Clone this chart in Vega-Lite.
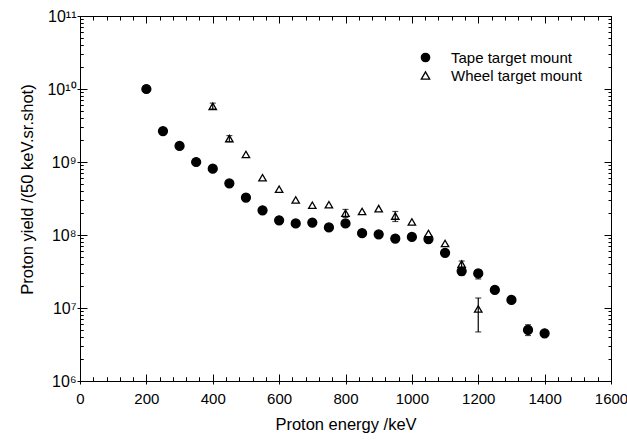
{
  "$schema": "https://vega.github.io/schema/vega-lite/v6.json",
  "width": 531,
  "height": 365,
  "autosize": "none",
  "padding": {"left": 80, "top": 16, "right": 16, "bottom": 64},
  "background": "white",
  "config": {
    "view": {"stroke": "black", "strokeWidth": 1},
    "font": "Liberation Sans",
    "axis": {"domainColor": "black", "tickColor": "black", "tickWidth": 1, "labelColor": "black", "titleColor": "black", "grid": false, "labelFont": "Liberation Sans", "titleFont": "Liberation Sans", "titleFontWeight": "normal", "labelFontSize": 15, "titleFontSize": 16.5, "labelOverlap": false},
    "legend": {"labelFont": "Liberation Sans", "labelFontSize": 15, "labelColor": "black"}
  },
  "data": {
    "values": [
      {"series": "Tape target mount", "energy": 200, "yield": 1.0e10},
      {"series": "Tape target mount", "energy": 250, "yield": 2.65e9},
      {"series": "Tape target mount", "energy": 300, "yield": 1.66e9},
      {"series": "Tape target mount", "energy": 350, "yield": 1.0e9},
      {"series": "Tape target mount", "energy": 400, "yield": 8.1e8},
      {"series": "Tape target mount", "energy": 450, "yield": 5.1e8},
      {"series": "Tape target mount", "energy": 500, "yield": 3.26e8},
      {"series": "Tape target mount", "energy": 550, "yield": 2.18e8},
      {"series": "Tape target mount", "energy": 600, "yield": 1.59e8},
      {"series": "Tape target mount", "energy": 650, "yield": 1.44e8},
      {"series": "Tape target mount", "energy": 700, "yield": 1.48e8},
      {"series": "Tape target mount", "energy": 750, "yield": 1.27e8},
      {"series": "Tape target mount", "energy": 800, "yield": 1.44e8},
      {"series": "Tape target mount", "energy": 850, "yield": 1.06e8},
      {"series": "Tape target mount", "energy": 900, "yield": 1.02e8},
      {"series": "Tape target mount", "energy": 950, "yield": 8.95e7},
      {"series": "Tape target mount", "energy": 1000, "yield": 9.4e7},
      {"series": "Tape target mount", "energy": 1050, "yield": 8.8e7},
      {"series": "Tape target mount", "energy": 1100, "yield": 5.7e7, "lo": 5.2e7, "hi": 6.2e7},
      {"series": "Tape target mount", "energy": 1150, "yield": 3.2e7, "lo": 2.8e7, "hi": 3.5e7},
      {"series": "Tape target mount", "energy": 1200, "yield": 2.97e7, "lo": 2.5e7, "hi": 3.3e7},
      {"series": "Tape target mount", "energy": 1250, "yield": 1.77e7},
      {"series": "Tape target mount", "energy": 1300, "yield": 1.29e7},
      {"series": "Tape target mount", "energy": 1350, "yield": 5.0e6, "lo": 4.2e6, "hi": 5.9e6},
      {"series": "Tape target mount", "energy": 1400, "yield": 4.5e6},
      {"series": "Wheel target mount", "energy": 400, "yield": 5.8e9, "lo": 5.3e9, "hi": 6.4e9},
      {"series": "Wheel target mount", "energy": 450, "yield": 2.09e9, "lo": 1.9e9, "hi": 2.3e9},
      {"series": "Wheel target mount", "energy": 500, "yield": 1.27e9},
      {"series": "Wheel target mount", "energy": 550, "yield": 6.1e8},
      {"series": "Wheel target mount", "energy": 600, "yield": 4.24e8},
      {"series": "Wheel target mount", "energy": 650, "yield": 3.02e8},
      {"series": "Wheel target mount", "energy": 700, "yield": 2.56e8},
      {"series": "Wheel target mount", "energy": 750, "yield": 2.6e8},
      {"series": "Wheel target mount", "energy": 800, "yield": 1.99e8, "lo": 1.74e8, "hi": 2.24e8},
      {"series": "Wheel target mount", "energy": 850, "yield": 2.1e8},
      {"series": "Wheel target mount", "energy": 900, "yield": 2.3e8},
      {"series": "Wheel target mount", "energy": 950, "yield": 1.82e8, "lo": 1.53e8, "hi": 2.1e8},
      {"series": "Wheel target mount", "energy": 1000, "yield": 1.51e8},
      {"series": "Wheel target mount", "energy": 1050, "yield": 1.05e8},
      {"series": "Wheel target mount", "energy": 1100, "yield": 7.65e7},
      {"series": "Wheel target mount", "energy": 1150, "yield": 4.0e7, "lo": 3.6e7, "hi": 4.4e7},
      {"series": "Wheel target mount", "energy": 1200, "yield": 9.7e6, "lo": 4.7e6, "hi": 1.37e7}
    ]
  },
  "layer": [
    {
      "mark": {"type": "point", "filled": true, "stroke": "black", "strokeWidth": 1.3, "opacity": 1},
      "encoding": {
        "x": {"field": "energy", "type": "quantitative", "scale": {"domain": [0, 1600], "nice": false, "zero": false},
          "axis": {"orient": "bottom", "offset": 0, "title": "Proton energy /keV", "values": [0,200,400,600,800,1000,1200,1400,1600], "format": "d",
            "tickSize": 3, "labelPadding": 7, "titlePadding": 10, "labelFlush": false, "labelOverlap": false}},
        "y": {"field": "yield", "type": "quantitative", "scale": {"type": "log", "domain": [1e6, 1e11], "nice": false},
          "axis": {"orient": "left", "offset": 0, "title": "Proton yield /(50 keV.sr.shot)", "values": [1e6,1e7,1e8,1e9,1e10,1e11],
            "labelExpr": "['','','','','','','10⁶','10⁷','10⁸','10⁹','10¹⁰','10¹¹'][round(log(datum.value)/LN10)]",
            "labelFontSize": 16, "tickSize": 3, "labelPadding": 1, "titlePadding": 11, "titleY": 173, "labelFlush": false, "labelOverlap": false}},
        "shape": {"field": "series", "type": "nominal", "scale": {"domain": ["Tape target mount", "Wheel target mount"], "range": ["circle", "triangle-up"]},
          "legend": {"title": null, "orient": "none", "legendX": 338, "legendY": 34, "symbolStrokeWidth": 1.3, "symbolSize": 70, "labelOffset": 18, "rowPadding": 2}},
        "fill": {"field": "series", "type": "nominal", "scale": {"domain": ["Tape target mount", "Wheel target mount"], "range": ["black", "white"]},
          "legend": {"title": null, "orient": "none", "legendX": 338, "legendY": 34, "symbolStrokeWidth": 1.3, "symbolSize": 70, "labelOffset": 18, "rowPadding": 2}},
        "size": {"condition": {"test": "datum.series === 'Tape target mount'", "value": 80}, "value": 55}
      }
    },
    {
      "transform": [{"filter": "isValid(datum.lo)"}],
      "mark": {"type": "rule", "color": "black", "strokeWidth": 1.2},
      "encoding": {
        "x": {"field": "energy", "type": "quantitative",
          "axis": {"orient": "top", "offset": -365, "title": null, "labels": false, "domain": false, "tickSize": 4, "values": [0,40,80,120,160,200,240,280,320,360,400,440,480,520,560,600,640,680,720,760,800,840,880,920,960,1000,1040,1080,1120,1160,1200,1240,1280,1320,1360,1400,1440,1480,1520,1560,1600]}},
        "y": {"field": "lo", "type": "quantitative",
          "axis": {"orient": "right", "offset": -531, "title": null, "labels": false, "domain": false, "tickSize": 3, "values": [2e6,3e6,4e6,5e6,6e6,7e6,8e6,9e6,2e7,3e7,4e7,5e7,6e7,7e7,8e7,9e7,2e8,3e8,4e8,5e8,6e8,7e8,8e8,9e8,2e9,3e9,4e9,5e9,6e9,7e9,8e9,9e9,2e10,3e10,4e10,5e10,6e10,7e10,8e10,9e10]}},
        "y2": {"field": "hi"}
      }
    },
    {
      "transform": [{"filter": "isValid(datum.lo)"}],
      "mark": {"type": "point", "shape": "M-1,0L1,0", "stroke": "black", "strokeWidth": 1.2, "size": 36, "filled": false},
      "encoding": {
        "x": {"field": "energy", "type": "quantitative",
          "axis": {"orient": "top", "offset": -365, "title": null, "labels": false, "domain": false, "tickSize": 7, "values": [0,200,400,600,800,1000,1200,1400,1600]}},
        "y": {"field": "lo", "type": "quantitative",
          "axis": {"orient": "right", "offset": -531, "title": null, "labels": false, "domain": false, "tickSize": 7, "values": [1e6,1e7,1e8,1e9,1e10,1e11]}}
      }
    },
    {
      "transform": [{"filter": "isValid(datum.lo)"}],
      "mark": {"type": "point", "shape": "M-1,0L1,0", "stroke": "black", "strokeWidth": 1.2, "size": 36, "filled": false},
      "encoding": {
        "x": {"field": "energy", "type": "quantitative",
          "axis": {"orient": "bottom", "offset": -365, "title": null, "labels": false, "domain": false, "tickSize": 4, "values": [0,40,80,120,160,200,240,280,320,360,400,440,480,520,560,600,640,680,720,760,800,840,880,920,960,1000,1040,1080,1120,1160,1200,1240,1280,1320,1360,1400,1440,1480,1520,1560,1600]}},
        "y": {"field": "hi", "type": "quantitative",
          "axis": {"orient": "left", "offset": -531, "title": null, "labels": false, "domain": false, "tickSize": 3, "values": [2e6,3e6,4e6,5e6,6e6,7e6,8e6,9e6,2e7,3e7,4e7,5e7,6e7,7e7,8e7,9e7,2e8,3e8,4e8,5e8,6e8,7e8,8e8,9e8,2e9,3e9,4e9,5e9,6e9,7e9,8e9,9e9,2e10,3e10,4e10,5e10,6e10,7e10,8e10,9e10]}}
      }
    },
    {
      "mark": {"type": "point", "opacity": 0},
      "encoding": {
        "x": {"field": "energy", "type": "quantitative",
          "axis": {"orient": "bottom", "offset": -365, "title": null, "labels": false, "domain": false, "tickSize": 7, "values": [0,200,400,600,800,1000,1200,1400,1600]}},
        "y": {"field": "yield", "type": "quantitative",
          "axis": {"orient": "left", "offset": -531, "title": null, "labels": false, "domain": false, "tickSize": 7, "values": [1e6,1e7,1e8,1e9,1e10,1e11]}}
      }
    },
    {
      "mark": {"type": "point", "opacity": 0},
      "encoding": {
        "x": {"field": "energy", "type": "quantitative",
          "axis": {"orient": "top", "offset": -365, "title": null, "labels": false, "domain": false, "tickSize": 4, "values": [0,40,80,120,160,200,240,280,320,360,400,440,480,520,560,600,640,680,720,760,800,840,880,920,960,1000,1040,1080,1120,1160,1200,1240,1280,1320,1360,1400,1440,1480,1520,1560,1600]}},
        "y": {"field": "yield", "type": "quantitative",
          "axis": {"orient": "right", "offset": -531, "title": null, "labels": false, "domain": false, "tickSize": 3, "values": [2e6,3e6,4e6,5e6,6e6,7e6,8e6,9e6,2e7,3e7,4e7,5e7,6e7,7e7,8e7,9e7,2e8,3e8,4e8,5e8,6e8,7e8,8e8,9e8,2e9,3e9,4e9,5e9,6e9,7e9,8e9,9e9,2e10,3e10,4e10,5e10,6e10,7e10,8e10,9e10]}}
      }
    }
  ],
  "resolve": {"axis": {"x": "independent", "y": "independent"}}
}
